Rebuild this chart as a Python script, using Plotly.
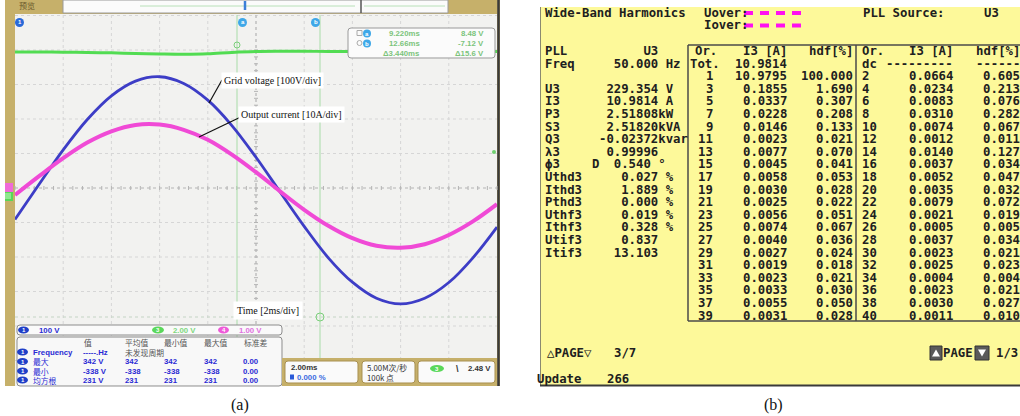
import plotly.graph_objects as go

W, H = 1020, 416

# ---------------- data (a): oscilloscope screenshot ----------------
time_ms = [0, 1, 2, 3, 4, 5, 6, 7, 8, 9, 10, 11, 12, 13, 14, 15, 16, 17, 18, 19, 20]
grid_voltage_V = [-85, 20, 123, 214, 285, 329, 342, 322, 272, 196, 101, -3, -106,
                  -200, -273, -321, -338, -321, -274, -200, -108]
output_current_A = [-2.0, 2.7, 7.2, 11.1, 13.9, 15.5, 15.6, 14.3, 11.8, 8.1, 3.7, -1.1,
                    -5.7, -9.7, -12.8, -14.7, -15.2, -14.3, -12.0, -8.6, -4.3]
ch3_level_V = [6.35, 6.35, 6.34, 6.33, 6.31, 6.28, 6.26, 6.25, 6.27, 6.33, 6.37, 6.38,
               6.38, 6.37, 6.37, 6.37, 6.37, 6.37, 6.37, 6.37, 6.37]

channel_scales = ["100 V", "2.00 V", "1.00 V"]
meas_headers = ["值", "平均值", "最小值", "最大值", "标准差"]
meas_names = ["Frequency", "最大", "最小", "均方根"]
meas_value = ["-----.Hz", "342 V", "-338 V", "231 V"]
meas_mean = ["未发现周期", "342", "-338", "231"]
meas_min = ["", "342", "-338", "231"]
meas_max = ["", "342", "-338", "231"]
meas_std = ["", "0.00", "0.00", "0.00"]
cursor_time = ["9.220ms", "12.66ms", "Δ3.440ms"]
cursor_volt = ["8.48 V", "-7.12 V", "Δ15.6 V"]
timebase = ["2.00ms", "0.000 %"]
acquisition = ["5.00M次/秒", "100k 点"]
trigger_level = "2.48 V"
trace_labels = ["Grid voltage [100V/div]", "Output current [10A/div]", "Time [2ms/div]"]

# ---------------- data (b): power analyzer screen ----------------
param_labels = ["U3", "I3", "P3", "S3", "Q3", "λ3", "ϕ3", "Uthd3", "Ithd3", "Pthd3",
                "Uthf3", "Ithf3", "Utif3", "Itif3"]
param_values = ["229.354", "10.9814", "2.51808", "2.51820", "-0.02372", "0.99996", "0.540",
                "0.027", "1.889", "0.000", "0.019", "0.328", "0.837", "13.103"]
param_units = [" V", " A", "kW", "kVA", "kvar", "", " °", " %", " %", " %", " %", " %", "", ""]
pll_source = "U3"
freq_text = "50.000"
total_I3 = "10.9814"
odd_orders = ["1", "3", "5", "7", "9", "11", "13", "15", "17", "19", "21", "23", "25",
              "27", "29", "31", "33", "35", "37", "39"]
odd_I3 = ["10.9795", "0.1855", "0.0337", "0.0228", "0.0146", "0.0023", "0.0077", "0.0045",
          "0.0058", "0.0030", "0.0025", "0.0056", "0.0074", "0.0040", "0.0027", "0.0019",
          "0.0023", "0.0033", "0.0055", "0.0031"]
odd_hdf = ["100.000", "1.690", "0.307", "0.208", "0.133", "0.021", "0.070", "0.041", "0.053",
           "0.028", "0.022", "0.051", "0.067", "0.036", "0.024", "0.018", "0.021", "0.030",
           "0.050", "0.028"]
even_orders = ["2", "4", "6", "8", "10", "12", "14", "16", "18", "20", "22", "24", "26",
               "28", "30", "32", "34", "36", "38", "40"]
even_I3 = ["0.0664", "0.0234", "0.0083", "0.0310", "0.0074", "0.0012", "0.0140", "0.0037",
           "0.0052", "0.0035", "0.0079", "0.0021", "0.0005", "0.0037", "0.0023", "0.0025",
           "0.0004", "0.0023", "0.0030", "0.0011"]
even_hdf = ["0.605", "0.213", "0.076", "0.282", "0.067", "0.011", "0.127", "0.034", "0.047",
            "0.032", "0.072", "0.019", "0.005", "0.034", "0.021", "0.023", "0.004", "0.021",
            "0.027", "0.010"]
page_left, page_right, update_count = "3/7", "1/3", "266"

# ---------------- helpers ----------------
shapes, annos = [], []


def X(px):
    return px / W


def Y(py):
    return 1 - py / H


def rect(x0, y0, x1, y1, fill=None, lc=None, lw=0, layer="above"):
    shapes.append(dict(type="rect", xref="paper", yref="paper", x0=X(x0), x1=X(x1),
                       y0=Y(y1), y1=Y(y0), fillcolor=fill or "rgba(0,0,0,0)",
                       line=dict(color=lc or "rgba(0,0,0,0)", width=lw), layer=layer))


def seg(x0, y0, x1, y1, color, width=1, dash=None, layer="above"):
    d = dict(color=color, width=width)
    if dash:
        d["dash"] = dash
    shapes.append(dict(type="line", xref="paper", yref="paper", x0=X(x0), x1=X(x1),
                       y0=Y(y0), y1=Y(y1), line=d, layer=layer))


def oval(x0, y0, x1, y1, fill, lc=None, lw=0, layer="above"):
    shapes.append(dict(type="circle", xref="paper", yref="paper", x0=X(x0), x1=X(x1),
                       y0=Y(y1), y1=Y(y0), fillcolor=fill,
                       line=dict(color=lc or fill, width=lw), layer=layer))


def rrect(x0, y0, x1, y1, r, fill, lc, lw=1, layer="above"):
    def p(x, y):
        return f"{X(x):.5f},{Y(y):.5f}"
    path = (f"M{p(x0 + r, y0)} L{p(x1 - r, y0)} Q{p(x1, y0)} {p(x1, y0 + r)} "
            f"L{p(x1, y1 - r)} Q{p(x1, y1)} {p(x1 - r, y1)} L{p(x0 + r, y1)} "
            f"Q{p(x0, y1)} {p(x0, y1 - r)} L{p(x0, y0 + r)} Q{p(x0, y0)} {p(x0 + r, y0)} Z")
    shapes.append(dict(type="path", xref="paper", yref="paper", path=path, fillcolor=fill,
                       line=dict(color=lc, width=lw), layer=layer))


def tri(cx, cy, s, up, color):
    h = s * 0.85
    if up:
        pts = [(cx - s / 2, cy + h / 2), (cx + s / 2, cy + h / 2), (cx, cy - h / 2)]
    else:
        pts = [(cx - s / 2, cy - h / 2), (cx + s / 2, cy - h / 2), (cx, cy + h / 2)]
    path = "M" + " L".join(f"{X(a):.5f},{Y(b):.5f}" for a, b in pts) + " Z"
    shapes.append(dict(type="path", xref="paper", yref="paper", path=path, fillcolor=color,
                       line=dict(color=color, width=0), layer="above"))


def txt(x, y, s, size, color, family, anchor="left", bold=False, bg=None, pad=0):
    a = dict(x=X(x), y=Y(y), xref="paper", yref="paper", text=(f"<b>{s}</b>" if bold else s),
             showarrow=False, xanchor=anchor, yanchor="middle", borderpad=pad,
             font=dict(size=size, color=color, family=family))
    if bg:
        a["bgcolor"] = bg
    annos.append(a)


SANS = "Liberation Sans, Noto Sans CJK SC, sans-serif"
CJK = "Noto Sans CJK SC, Liberation Sans, sans-serif"
SERIF = "Liberation Serif, DejaVu Serif, serif"
MONO = "DejaVu Sans Mono, Liberation Mono, monospace"

TAN = "#c6b06a"
SCREEN = "#f2f2f0"
BLUE_UI = "#2a2ad4"
UI_FS = 7.8

# ---------------- panel (a) background / frame ----------------
rect(5, 0, 500, 386, fill=TAN, layer="below")
rect(15, 14, 497, 386, fill=SCREEN, layer="below")
rect(63, 0, 448, 13, fill="#fbfbfb", lc="#9a9a9a", lw=1, layer="below")
seg(140, 6, 355, 6, "#b8e0b8", 1, layer="below")
seg(364, 6, 445, 6, "#b8e0b8", 1, layer="below")
seg(361, 0, 361, 13, "#555555", 1.5, layer="below")
seg(498.5, 0, 498.5, 386, "#3a3a3a", 2.5, layer="below")

# graticule
divx = (497 - 15) / 10.0
for k in range(1, 10):
    xx = 15 + k * divx
    seg(xx, 15, xx, 385, "#d6d6d6", 1, dash="dot", layer="below")
cy = 188
divy = 34.5
for k in range(-5, 6):
    yy = cy + k * divy
    if 15 < yy < 385 and k != 0:
        seg(15, yy, 497, yy, "#d6d6d6", 1, dash="dot", layer="below")
seg(256, 15, 256, 385, "#b4b4b4", 1, dash="dot", layer="below")
seg(15, cy, 497, cy, "#b4b4b4", 1, dash="dot", layer="below")
for k in range(0, 51):
    xx = 15 + k * divx / 5
    seg(xx, cy - 2, xx, cy + 2, "#b4b4b4", 1, layer="below")
k = -20
while True:
    yy = cy + k * divy / 5
    k += 1
    if yy > 385:
        break
    if yy < 16:
        continue
    seg(254, yy, 258, yy, "#b4b4b4", 1, layer="below")
# trigger level / cursor lines
seg(15, 317, 497, 317, "#c4d4c4", 1, dash="dot", layer="below")
seg(237, 15, 237, 385, "#a8dca8", 1, layer="below")
seg(320, 15, 320, 385, "#a8dca8", 1, layer="below")

# ---------------- traces (a) ----------------
fig = go.Figure()
fig.add_trace(go.Scatter(x=time_ms, y=ch3_level_V, yaxis="y3", mode="lines",
                         line=dict(color="#52dc52", width=3, shape="spline"), hoverinfo="skip"))
fig.add_trace(go.Scatter(x=time_ms, y=grid_voltage_V, yaxis="y", mode="lines",
                         line=dict(color="#3d3dc6", width=2.8, shape="spline"), hoverinfo="skip"))
fig.add_trace(go.Scatter(x=time_ms, y=output_current_A, yaxis="y2", mode="lines",
                         line=dict(color="#f04ad6", width=4, shape="spline"), hoverinfo="skip"))

# markers on screen
oval(234, 42, 240, 48, "rgba(0,0,0,0)", lc="#7ccf7c", lw=1)
oval(316, 313, 324, 321, "rgba(0,0,0,0)", lc="#7ccf7c", lw=1)
oval(492, 150, 496, 154, "#6fd06f")
oval(15, 18, 24, 27, "#2a6ad8")
txt(19.5, 22.5, "1", 6, "white", SANS, "center", bold=True)
oval(238, 18, 247, 27, "#3fa8e8")
txt(242.5, 22.5, "a", 6, "white", SANS, "center", bold=True)
oval(311, 18, 320, 27, "#3fa8e8")
txt(315.5, 22.5, "b", 6, "white", SANS, "center", bold=True)
seg(245, 1, 245, 10, "#3b7fd8", 2.5)
rect(5, 183, 13, 192, fill="#f06ad8", layer="above")
rect(5, 192, 13, 201, fill="#58d858", layer="above")
rect(5, 193, 11, 199, fill="#8fe88f", layer="above")
txt(18, 6, "预览", 8, "#6b5a2a", CJK, "left")

# cursor readout box
rrect(348, 28, 495, 58, 3, "#fbfbfb", "#9a9a9a", 1)
rect(357, 30.5, 362, 35.5, fill=None, lc="#aaaaaa", lw=1)
oval(357, 40.5, 362, 45.5, "rgba(0,0,0,0)", lc="#aaaaaa", lw=1)
for i, lab in enumerate(["a", "b"]):
    yy = 33.5 + i * 10
    oval(363, yy - 4, 371, yy + 4, "#3fa8e8")
    txt(367, yy, lab, 6, "white", SANS, "center", bold=True)
for i in range(3):
    yy = 33.5 + i * 10
    txt(421, yy, cursor_time[i], UI_FS, "#7cc47c", SANS, "right", bold=True)
    txt(485, yy, cursor_volt[i], UI_FS, "#7cc47c", SANS, "right", bold=True)

# labels with leader lines
txt(272, 80, trace_labels[0], 10, "#111111", SERIF, "center", bg="white", pad=2)
seg(222, 80, 209, 103, "#111111", 1.2)
txt(291, 114, trace_labels[1], 10, "#111111", SERIF, "center", bg="white", pad=2)
seg(247, 114, 199, 137, "#111111", 1.2)
txt(268, 310, trace_labels[2], 10, "#111111", SERIF, "center", bg="white", pad=3)

# channel scale box
rrect(17, 325, 282, 335, 3, "#fafafa", "#8c8c8c", 1)
oval(18, 326.5, 29, 333.5, "#1f3fc8")
txt(23.5, 330, "1", 6, "white", SANS, "center", bold=True)
txt(38, 330, channel_scales[0], UI_FS, BLUE_UI, SANS, "left", bold=True)
oval(152, 326.5, 164, 333.5, "#5ad85a")
txt(158, 330, "3", 6, "white", SANS, "center", bold=True)
txt(172, 330, channel_scales[1], UI_FS, "#7ed87e", SANS, "left", bold=True)
oval(218, 326.5, 229, 333.5, "#ee5ad8")
txt(223.5, 330, "4", 6, "white", SANS, "center", bold=True)
txt(238, 330, channel_scales[2], UI_FS, "#e070e0", SANS, "left", bold=True)

# measurement table
rrect(17, 337, 282, 386, 3, "#f8f8f8", "#8c8c8c", 1)
head_x = [83, 124, 163, 203, 243]
col_x = [82, 124, 163, 203, 242]
for hx, h in zip(head_x, meas_headers):
    txt(hx, 342.5, h, UI_FS, "#555555", CJK, "left")
row_y = [352, 361.5, 371, 380]
for i, name in enumerate(meas_names):
    yy = row_y[i]
    oval(17, yy - 3.5, 28, yy + 3.5, "#1f3fc8")
    txt(22.5, yy, "1", 6, "white", SANS, "center", bold=True)
    txt(32, yy, name, UI_FS, BLUE_UI, CJK if i else SANS, "left", bold=(i == 0))
    vals = [meas_value[i], meas_mean[i], meas_min[i], meas_max[i], meas_std[i]]
    for cx_, v in zip(col_x, vals):
        if v:
            fam = CJK if any(ord(c) > 0x2e80 for c in v) else SANS
            txt(cx_, yy, v, UI_FS, BLUE_UI if fam == SANS else "#555555", fam, "left",
                bold=(fam == SANS))

# bottom-right status boxes
rect(282, 358, 497, 386, fill=TAN, layer="above")
rrect(285, 361, 358, 383, 3, "#fafafa", "#a89050", 1)
rrect(362, 361, 415, 383, 3, "#fafafa", "#a89050", 1)
rrect(418, 361, 495, 383, 3, "#fafafa", "#a89050", 1)
txt(290, 367, timebase[0], UI_FS, "#333333", SANS, "left", bold=True)
rect(290, 374.5, 294, 379.5, fill="#2a5ad8")
txt(296, 377, timebase[1], UI_FS, "#3a6ae0", SANS, "left", bold=True)
txt(366, 367, acquisition[0], UI_FS, "#333333", CJK, "left")
txt(366, 377, acquisition[1], UI_FS, "#333333", CJK, "left")
oval(430, 365, 444, 372, "#5ad85a")
txt(437, 368.5, "3", 6, "white", SANS, "center", bold=True)
txt(457, 368.5, "\\", 9, "#333333", SANS, "center", bold=True)
txt(492, 368.5, trigger_level, UI_FS, "#333333", SANS, "right", bold=True)

# caption (a)
txt(240, 405, "(a)", 16, "#111111", SERIF, "center")

# ---------------- panel (b) ----------------
YEL = "#fdf99a"
INK = "#202020"
FS = 12.3
rect(540, 7, 1021, 386, fill=YEL, layer="below")
seg(540.5, 7, 540.5, 386, "#8a8a70", 1)
seg(540, 385.5, 1021, 385.5, "#3a3a3a", 2)

txt(544, 13, "Wide-Band Harmonics", FS, INK, MONO, "left", bold=True)
txt(703, 13, "Uover:", FS, INK, MONO, "left", bold=True)
txt(703, 25.5, "Iover:", FS, INK, MONO, "left", bold=True)
for yy in (13, 25.5):
    for xx in (744, 760, 776, 792):
        rect(xx, yy - 2, xx + 9, yy + 2, fill="#ff10f0")
txt(862, 13, "PLL Source:", FS, INK, MONO, "left", bold=True)
txt(983, 13, pll_source, FS, INK, MONO, "left", bold=True)

# left column
txt(544, 51, "PLL", FS, INK, MONO, "left", bold=True)
txt(598, 51, pll_source.rjust(8), FS, INK, MONO, "left", bold=True)
txt(544, 63.5, "Freq", FS, INK, MONO, "left", bold=True)
txt(598, 63.5, freq_text.rjust(8) + " Hz", FS, INK, MONO, "left", bold=True)
ROW0, DROW = 76.2, 12.6
for i, (lab, val, unit) in enumerate(zip(param_labels, param_values, param_units)):
    yy = ROW0 + (i + 1) * DROW
    txt(544, yy, lab, FS, INK, MONO, "left", bold=True)
    pad = 7 if lab == "ϕ3" else 8
    txt(598, yy, val.rjust(pad) + unit, FS, INK, MONO, "left", bold=True)
    if lab == "ϕ3":
        txt(591, yy, "D", FS, INK, MONO, "left", bold=True)

# harmonic table
seg(688, 45, 1021, 45, "#4a4a4a", 1.5)
seg(688, 321, 1021, 321, "#4a4a4a", 1.5)
seg(688, 45, 688, 321, "#4a4a4a", 1.5)
seg(856, 45, 856, 321, "#4a4a4a", 1.5)
txt(694, 51, "Or.", FS, INK, MONO, "left", bold=True)
txt(788, 51, "I3 [A]", FS, INK, MONO, "right", bold=True)
txt(854, 51, "hdf[%]", FS, INK, MONO, "right", bold=True)
txt(861, 51, "Or.", FS, INK, MONO, "left", bold=True)
txt(954, 51, "I3 [A]", FS, INK, MONO, "right", bold=True)
txt(1021, 51, "hdf[%]", FS, INK, MONO, "right", bold=True)
txt(689, 63.5, "Tot.", FS, INK, MONO, "left", bold=True)
txt(788, 63.5, total_I3, FS, INK, MONO, "right", bold=True)
txt(861, 63.5, "dc", FS, INK, MONO, "left", bold=True)
txt(954, 63.5, "---------", FS, INK, MONO, "right", bold=True)
txt(1021, 63.5, "------", FS, INK, MONO, "right", bold=True)
for i in range(len(odd_orders)):
    yy = ROW0 + i * DROW
    txt(714, yy, odd_orders[i], FS, INK, MONO, "right", bold=True)
    txt(788, yy, odd_I3[i], FS, INK, MONO, "right", bold=True)
    txt(854, yy, odd_hdf[i], FS, INK, MONO, "right", bold=True)
    txt(861, yy, even_orders[i], FS, INK, MONO, "left", bold=True)
    txt(954, yy, even_I3[i], FS, INK, MONO, "right", bold=True)
    txt(1021, yy, even_hdf[i], FS, INK, MONO, "right", bold=True)

# page controls
txt(546, 353, "△PAGE▽", FS, INK, MONO, "left", bold=True)
txt(613, 353, page_left, FS, INK, MONO, "left", bold=True)
rect(930, 346, 942, 360, fill="#5a5a5a", lc="#333333", lw=1)
tri(936, 353, 8, True, "white")
txt(942, 353, "PAGE", FS, INK, MONO, "left", bold=True)
rect(975, 346, 989, 360, fill="#5a5a5a", lc="#333333", lw=1)
tri(982, 353, 8, False, "white")
txt(1019, 353, page_right, FS, INK, MONO, "right", bold=True)
txt(536, 378.5, "Update", FS, INK, MONO, "left", bold=True)
txt(606, 378.5, update_count, FS, INK, MONO, "left", bold=True)

txt(773, 405, "(b)", 16, "#111111", SERIF, "center")

# ---------------- layout ----------------
VTOP, VBOT = 15, 385
v_zero, v_px = 191.0, 0.334
i_zero, i_px = 187.0, 4.0
g_zero, g_px = 198.0, 23.0

fig.update_layout(
    width=W, height=H, margin=dict(l=0, r=0, t=0, b=0),
    paper_bgcolor="white", plot_bgcolor="rgba(0,0,0,0)", showlegend=False,
    xaxis=dict(domain=[X(15), X(497)], range=[0, 20], visible=False, fixedrange=True),
    yaxis=dict(domain=[Y(VBOT), Y(VTOP)],
               range=[-(VBOT - v_zero) / v_px, (v_zero - VTOP) / v_px],
               visible=False, fixedrange=True),
    yaxis2=dict(overlaying="y", range=[-(VBOT - i_zero) / i_px, (i_zero - VTOP) / i_px],
                visible=False, fixedrange=True),
    yaxis3=dict(overlaying="y", range=[-(VBOT - g_zero) / g_px, (g_zero - VTOP) / g_px],
                visible=False, fixedrange=True),
    shapes=shapes, annotations=annos,
)
fig.write_html("out.html", config={"displayModeBar": False},
               post_script="document.body.style.margin='0';document.body.style.overflow='hidden';")
